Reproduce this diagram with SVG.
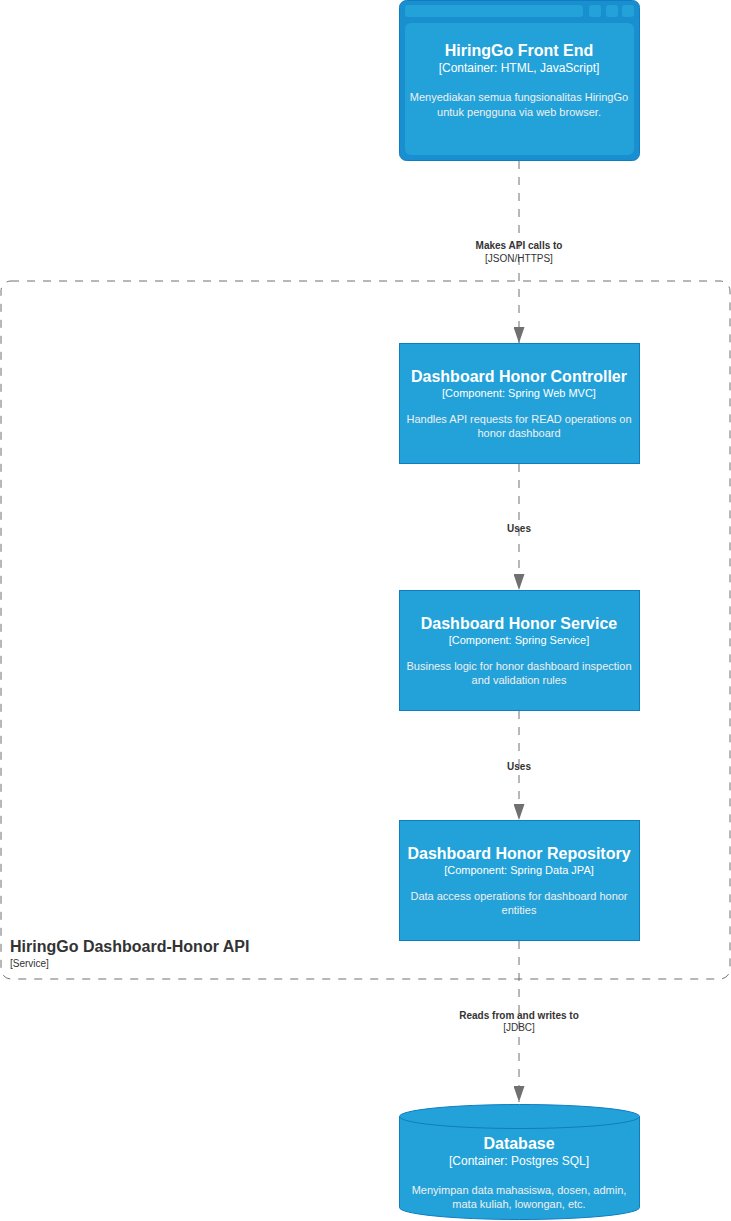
<svg xmlns="http://www.w3.org/2000/svg" width="731" height="1221" viewBox="0 0 731 1221">
<style>
text{font-family:"Liberation Sans",Arial,sans-serif;fill:#fff;text-anchor:middle}
.t{font-size:16px;font-weight:bold}
.s{font-size:11px}
.s12{font-size:12px}
.d{font-size:11px;fill:#f0f0f0}
.box{fill:#23a2d9;stroke:#0e7dc2;stroke-width:1}
.lbl{fill:#333;font-size:10px}
.lb{font-weight:bold}
.conn{stroke:#707070;stroke-width:1;stroke-dasharray:8 8;fill:none}
</style>
<defs>
<marker id="arr" markerWidth="16" markerHeight="11" refX="16" refY="5.5" orient="auto" markerUnits="userSpaceOnUse" viewBox="0 0 16 11">
<path d="M0,0 L16,5.5 L0,11 Z" fill="#707070"/>
</marker>
</defs>
<g id="boundary">
<rect x="1" y="281" width="729" height="698" rx="10" ry="10" fill="none" stroke="#707070" stroke-width="1" stroke-dasharray="8 8"/>
<text x="10" y="952" style="text-anchor:start;fill:#333;font-size:16px;font-weight:bold">HiringGo Dashboard-Honor API</text>
<text x="10" y="967" style="text-anchor:start;fill:#333;font-size:10px">[Service]</text>
</g>
<g id="connectors">
<line class="conn" x1="519" y1="161" x2="519" y2="343" marker-end="url(#arr)"/>
<text class="lbl lb" x="519" y="249">Makes API calls to</text>
<text class="lbl" x="519" y="262">[JSON/HTTPS]</text>
<line class="conn" x1="519" y1="464" x2="519" y2="590" marker-end="url(#arr)"/>
<text class="lbl lb" x="519" y="532">Uses</text>
<line class="conn" x1="519" y1="711" x2="519" y2="820" marker-end="url(#arr)"/>
<text class="lbl lb" x="519" y="770">Uses</text>
<line class="conn" x1="519" y1="941" x2="519" y2="1102" marker-end="url(#arr)"/>
<text class="lbl lb" x="519" y="1019">Reads from and writes to</text>
<text class="lbl" x="519" y="1031">[JDBC]</text>
</g>
<g id="frontend">
<rect x="399.5" y="0.5" width="240" height="160" rx="7" ry="7" fill="#1a8fd0" stroke="#0e7dc2"/>
<rect x="405" y="5" width="178" height="12" rx="3" fill="#23a2d9"/>
<rect x="589" y="5" width="12" height="12" rx="3" fill="#23a2d9"/>
<rect x="606" y="5" width="12" height="12" rx="3" fill="#23a2d9"/>
<rect x="622" y="5" width="12" height="12" rx="3" fill="#23a2d9"/>
<rect x="405" y="23" width="229" height="132" rx="6" ry="6" fill="#23a2d9"/>
<text class="t" x="519" y="56">HiringGo Front End</text>
<text class="s12" x="519" y="72">[Container: HTML, JavaScript]</text>
<text class="d" x="519" y="101">Menyediakan semua fungsionalitas HiringGo</text>
<text class="d" x="519" y="116">untuk pengguna via web browser.</text>
</g>
<g id="controller">
<rect class="box" x="399.5" y="343.5" width="240" height="120"/>
<text class="t" x="519" y="382">Dashboard Honor Controller</text>
<text class="s" x="519" y="397">[Component: Spring Web MVC]</text>
<text class="d" x="519" y="423">Handles API requests for READ operations on</text>
<text class="d" x="519" y="437">honor dashboard</text>
</g>
<g id="service">
<rect class="box" x="399.5" y="590.5" width="240" height="120"/>
<text class="t" x="519" y="629">Dashboard Honor Service</text>
<text class="s" x="519" y="644">[Component: Spring Service]</text>
<text class="d" x="519" y="670">Business logic for honor dashboard inspection</text>
<text class="d" x="519" y="684">and validation rules</text>
</g>
<g id="repository">
<rect class="box" x="399.5" y="820.5" width="240" height="120"/>
<text class="t" x="519" y="859">Dashboard Honor Repository</text>
<text class="s" x="519" y="874">[Component: Spring Data JPA]</text>
<text class="d" x="519" y="900">Data access operations for dashboard honor</text>
<text class="d" x="519" y="914">entities</text>
</g>
<g id="database">
<path class="box" d="M399.5,1116.5 A120,12 0 0 1 639.5,1116.5 L639.5,1207.5 A120,12 0 0 1 399.5,1207.5 Z"/>
<path d="M399.5,1116.5 A120,12 0 0 0 639.5,1116.5" fill="none" stroke="#0e7dc2"/>
<text class="t" x="519" y="1149">Database</text>
<text class="s12" x="519" y="1165">[Container: Postgres SQL]</text>
<text class="d" x="519" y="1194">Menyimpan data mahasiswa, dosen, admin,</text>
<text class="d" x="519" y="1208">mata kuliah, lowongan, etc.</text>
</g>
</svg>
